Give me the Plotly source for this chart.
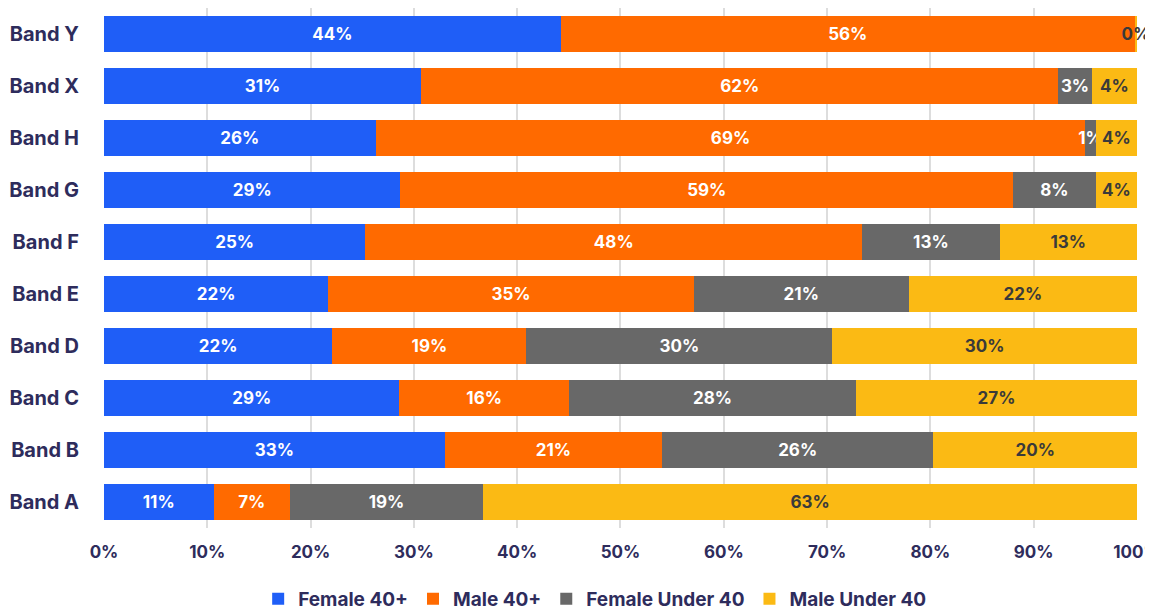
import plotly.graph_objects as go

# Share of staff by salary band (%)
bands = ["Band A", "Band B", "Band C", "Band D", "Band E",
         "Band F", "Band G", "Band H", "Band X", "Band Y"]
female_40_plus = [10.6, 33.0, 28.6, 22.1, 21.7, 25.3, 28.7, 26.3, 30.7, 44.2]
male_40_plus = [7.4, 21.0, 16.4, 18.8, 35.4, 48.1, 59.3, 68.7, 61.7, 55.6]
female_under_40 = [18.7, 26.3, 27.8, 29.6, 20.8, 13.3, 8.0, 1.0, 3.2, 0.0]
male_under_40 = [63.3, 19.7, 27.2, 29.5, 22.1, 13.3, 4.0, 4.0, 4.4, 0.2]

x_ticks = [0, 10, 20, 30, 40, 50, 60, 70, 80, 90, 100]

NAVY = "#2E2C5C"
FONT = "Inter"

series = [
    ("Female 40+", female_40_plus, "#1F5EF7", "white"),
    ("Male 40+", male_40_plus, "#FF6A00", "white"),
    ("Female Under 40", female_under_40, "#686868", "white"),
    ("Male Under 40", male_under_40, "#FBBA14", "#3A3A3A"),
]

fig = go.Figure()
for name, vals, color, txtcolor in series:
    fig.add_trace(go.Bar(
        y=bands,
        x=vals,
        name=name,
        orientation="h",
        marker=dict(color=color, line=dict(width=0)),
        texttemplate="%{x:.0f}%",
        textposition="inside",
        insidetextanchor="middle",
        textangle=0,
        constraintext="none",
        textfont=dict(family=FONT, size=17, color=txtcolor, weight=700),
        cliponaxis=False,
        hoverinfo="skip",
    ))

# page body has an 8px margin, so the figure is sized/offset to compensate
fig.update_layout(
    barmode="stack",
    bargap=0.31,
    width=1145,
    height=603,
    margin=dict(l=96, r=16, t=0, b=83),
    plot_bgcolor="white",
    paper_bgcolor="white",
    font=dict(family=FONT, color=NAVY, weight=700),
    uniformtext=dict(minsize=17, mode="show"),
    xaxis=dict(
        range=[0, 100.001],
        tickvals=x_ticks,
        ticktext=[f"{t}%" for t in x_ticks],
        tickfont=dict(size=17, color=NAVY, weight=700),
        showgrid=True,
        gridcolor="#DDDDDD",
        gridwidth=1.5,
        zeroline=True,
        zerolinecolor="white",
        ticks="",
        ticklabelstandoff=12,
        ticklabeloverflow="allow",
        automargin=False,
    ),
    yaxis=dict(
        tickfont=dict(size=20, color=NAVY, weight=700),
        showgrid=False,
        ticks="",
        ticklabelstandoff=24,
        automargin=False,
    ),
    legend=dict(
        orientation="h",
        x=0.475,
        xanchor="center",
        yref="container",
        y=0.0199,
        yanchor="middle",
        font=dict(size=19, color=NAVY, weight=700),
        itemwidth=30,
        traceorder="normal",
    ),
)

fig.write_html("out.html")
